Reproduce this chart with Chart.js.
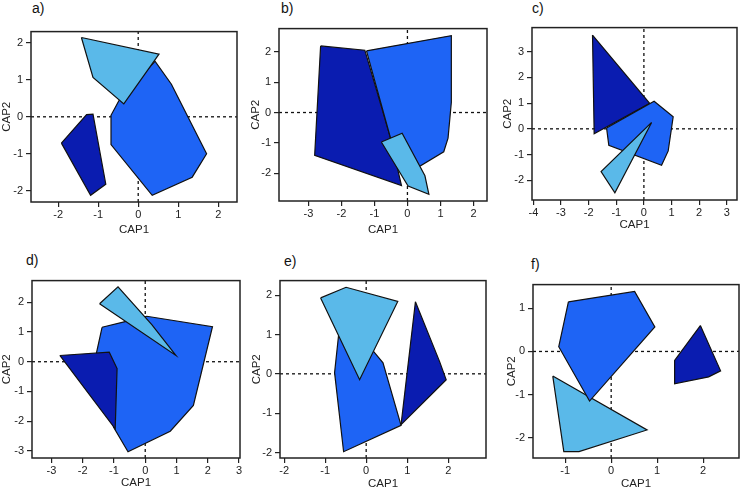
<!DOCTYPE html>
<html>
<head>
<meta charset="utf-8">
<script src="https://cdn.jsdelivr.net/npm/chart.js@4.4.1/dist/chart.umd.min.js"></script>
<style>
  html, body { margin: 0; padding: 0; background: #fff; overflow: hidden; }
  body { width: 740px; height: 490px; position: relative; font-family: "Liberation Sans", Arial, sans-serif; }
  canvas { position: absolute; }
  .letra { position: absolute; font-size: 14px; color: #111; line-height: 16px; }
</style>
</head>
<body>
<div class="letra" style="left:32px;top:0px">a)</div>
<div class="letra" style="left:281px;top:0px">b)</div>
<div class="letra" style="left:532px;top:0px">c)</div>
<div class="letra" style="left:26px;top:252px">d)</div>
<div class="letra" style="left:284px;top:253px">e)</div>
<div class="letra" style="left:531px;top:256px">f)</div>

<script>
// colours of the three groups
var corEscura = "#0a1cb0";
var corMedia = "#1e64f5";
var corClara = "#5ab9e9";

// polygon vertices [CAP1, CAP2] for each panel
var aEscuro = [[-1.92, -0.71], [-1.29, 0.06], [-1.13, 0.07], [-0.81, -1.82], [-1.19, -2.12]];
var aMedio = [[-0.48, 0.44], [0.42, 1.5], [0.83, 0.88], [1.71, -1.0], [1.35, -1.63], [0.35, -2.12], [-0.68, -0.75], [-0.68, 0.04]];
var aClaro = [[-1.42, 2.14], [0.52, 1.69], [-0.36, 0.35], [-1.13, 1.06]];

var bEscuro = [[-2.63, 2.19], [-1.29, 2.05], [-0.54, -0.73], [-0.18, -2.4], [-2.81, -1.41]];
var bMedio = [[-1.24, 2.03], [1.33, 2.53], [1.33, 0.34], [1.23, -0.84], [1.1, -1.29], [0.37, -1.77], [-0.33, -1.48], [-0.54, -0.73]];
var bClaro = [[-0.79, -0.97], [-0.16, -0.68], [0.53, -2.08], [0.65, -2.69], [0.02, -2.42]];

var cEscuro = [[-1.86, 3.65], [0.21, 0.99], [-1.8, -0.19]];
var cMedio = [[-1.35, 0.03], [0.37, 1.07], [1.06, 0.47], [0.88, -0.86], [0.64, -1.42], [-1.27, -0.64]];
var cClaro = [[0.28, 0.25], [-1.05, -2.49], [-1.55, -1.66]];

var dEscuro = [[-2.73, 0.21], [-1.15, 0.32], [-0.9, -0.23], [-0.96, -2.26]];
var dMedio = [[-1.38, 1.16], [-0.61, 1.36], [0.05, 1.53], [2.15, 1.18], [1.54, -1.47], [0.8, -2.34], [-0.55, -3.03], [-1.01, -2.21], [-1.56, 0.29]];
var dClaro = [[-1.46, 1.95], [-0.87, 2.52], [0.21, 1.25], [0.98, 0.21]];

var eEscuro = [[1.2, 1.83], [1.79, 0.31], [1.95, -0.15], [0.85, -1.29]];
var eMedio = [[-0.66, 1.1], [-0.77, 0.03], [-0.55, -1.98], [0.85, -1.31], [0.41, 0.28], [0.18, 0.57]];
var eClaro = [[-1.11, 1.93], [-0.49, 2.2], [0.77, 1.84], [-0.16, -0.15]];

var fEscuro = [[1.94, 0.6], [2.38, -0.45], [2.12, -0.59], [1.38, -0.75], [1.38, -0.21]];
var fMedio = [[-0.93, 1.15], [0.51, 1.39], [0.95, 0.57], [-0.47, -1.15], [-1.14, 0.11]];
var fClaro = [[-1.27, -0.57], [0.78, -1.82], [-0.7, -2.32], [-1.03, -2.32]];

// tick labels
var ticksA_x = [-2, -1, 0, 1, 2], ticksA_y = [-2, -1, 0, 1, 2];
var ticksB_x = [-3, -2, -1, 0, 1, 2], ticksB_y = [-2, -1, 0, 1, 2];
var ticksC_x = [-4, -3, -2, -1, 0, 1, 2, 3], ticksC_y = [-2, -1, 0, 1, 2, 3];
var ticksD_x = [-3, -2, -1, 0, 1, 2, 3], ticksD_y = [-3, -2, -1, 0, 1, 2];
var ticksE_x = [-2, -1, 0, 1, 2], ticksE_y = [-2, -1, 0, 1, 2];
var ticksF_x = [-1, 0, 1, 2], ticksF_y = [-2, -1, 0, 1];

// panel table: box in page pixels (L,T,R,B), axis title centres, ranges, draw order (0 = on top)
var paineis = [
  { L: 31, T: 28, R: 237, B: 202, tx: 7, ty: 230, xr: [-2.68, 2.47], yr: [-2.3, 2.3], tX: ticksA_x, tY: ticksA_y,
    grupos: [[aEscuro, corEscura, 2], [aMedio, corMedia, 1], [aClaro, corClara, 0]] },
  { L: 279, T: 25, R: 487, B: 201, tx: 256, ty: 230, xr: [-3.89, 2.41], yr: [-2.91, 2.76], tX: ticksB_x, tY: ticksB_y,
    grupos: [[bEscuro, corEscura, 2], [bMedio, corMedia, 1], [bClaro, corClara, 0]] },
  { L: 532, T: 24, R: 737, B: 200, tx: 508, ty: 225, xr: [-4.05, 3.37], yr: [-2.77, 3.94], tX: ticksC_x, tY: ticksC_y,
    grupos: [[cEscuro, corEscura, 2], [cMedio, corMedia, 1], [cClaro, corClara, 0]] },
  { L: 32, T: 277, R: 240, B: 458, tx: 7, ty: 483, xr: [-3.62, 3.03], yr: [-3.24, 2.73], tX: ticksD_x, tY: ticksD_y,
    grupos: [[dEscuro, corEscura, 1], [dMedio, corMedia, 2], [dClaro, corClara, 0]] },
  { L: 280, T: 277, R: 486, B: 458, tx: 257, ty: 484, xr: [-2.1, 2.92], yr: [-2.14, 2.37], tX: ticksE_x, tY: ticksE_y,
    grupos: [[eEscuro, corEscura, 2], [eMedio, corMedia, 1], [eClaro, corClara, 0]] },
  { L: 533, T: 281, R: 739, B: 458, tx: 512, ty: 484, xr: [-1.7, 2.78], yr: [-2.47, 1.55], tX: ticksF_x, tY: ticksF_y,
    grupos: [[fEscuro, corEscura, 2], [fMedio, corMedia, 0], [fClaro, corClara, 1]] }
];

var fonte = "'Liberation Sans', Arial, sans-serif";

// draws the black frame around the plot area
var molduraPlugin = {
  id: "moldura",
  afterDatasetsDraw: function (chart) {
    var area = chart.chartArea;
    var ctx = chart.ctx;
    ctx.save();
    ctx.strokeStyle = "#222";
    ctx.lineWidth = 1.5;
    ctx.strokeRect(area.left, area.top, area.right - area.left, area.bottom - area.top);
    ctx.restore();
  }
};

function paraPontos(lista) {
  var pontos = lista.map(function (p) { return { x: p[0], y: p[1] }; });
  pontos.push({ x: lista[0][0], y: lista[0][1] });
  return pontos;
}

function linhaTracejada(pontos) {
  return {
    data: pontos,
    showLine: true,
    borderColor: "#111",
    borderWidth: 1.3,
    borderDash: [3, 3],
    pointRadius: 0,
    fill: false,
    order: 10
  };
}

function eixo(min, max, lista, titulo, tamanho, horizontal) {
  return {
    type: "linear",
    min: min,
    max: max,
    afterBuildTicks: function (scale) {
      scale.ticks = lista.map(function (v) { return { value: v }; });
    },
    afterFit: function (scale) {
      if (horizontal) scale.height = tamanho;
      else scale.width = tamanho;
    },
    grid: { drawOnChartArea: false, drawTicks: true, tickLength: 5, color: "#222", lineWidth: 1.2 },
    border: { display: false },
    ticks: { color: "#222", font: { size: 11, family: fonte }, padding: horizontal ? 1 : 3, autoSkip: false, maxRotation: 0 },
    title: { display: true, text: titulo, color: "#222", font: { size: 11.5, family: fonte }, padding: 0 }
  };
}

function criarPainel(p) {
  var esquerda = Math.round(p.tx - 7);
  var topo = p.T - 6;
  var direita = Math.min(p.R + 4, 740);
  var fundo = Math.round(p.ty + 7);

  var canvas = document.createElement("canvas");
  canvas.width = direita - esquerda;
  canvas.height = fundo - topo;
  canvas.style.left = esquerda + "px";
  canvas.style.top = topo + "px";
  document.body.appendChild(canvas);

  var datasets = [];
  p.grupos.forEach(function (g) {
    datasets.push({
      data: paraPontos(g[0]),
      showLine: true,
      tension: 0,
      fill: "shape",
      backgroundColor: g[1],
      borderColor: "#111",
      borderWidth: 1.2,
      pointRadius: 0,
      order: g[2]
    });
  });
  datasets.push(linhaTracejada([{ x: p.xr[0], y: 0 }, { x: p.xr[1], y: 0 }]));
  datasets.push(linhaTracejada([{ x: 0, y: p.yr[0] }, { x: 0, y: p.yr[1] }]));

  new Chart(canvas.getContext("2d"), {
    type: "scatter",
    data: { datasets: datasets },
    options: {
      responsive: false,
      animation: false,
      events: [],
      layout: { padding: { left: 0, top: 6, right: direita - p.R, bottom: 0 } },
      plugins: { legend: { display: false }, tooltip: { enabled: false } },
      scales: {
        x: eixo(p.xr[0], p.xr[1], p.tX, "CAP1", fundo - p.B, true),
        y: eixo(p.yr[0], p.yr[1], p.tY, "CAP2", p.L - esquerda, false)
      }
    },
    plugins: [molduraPlugin]
  });
}

paineis.forEach(criarPainel);
</script>
</body>
</html>
